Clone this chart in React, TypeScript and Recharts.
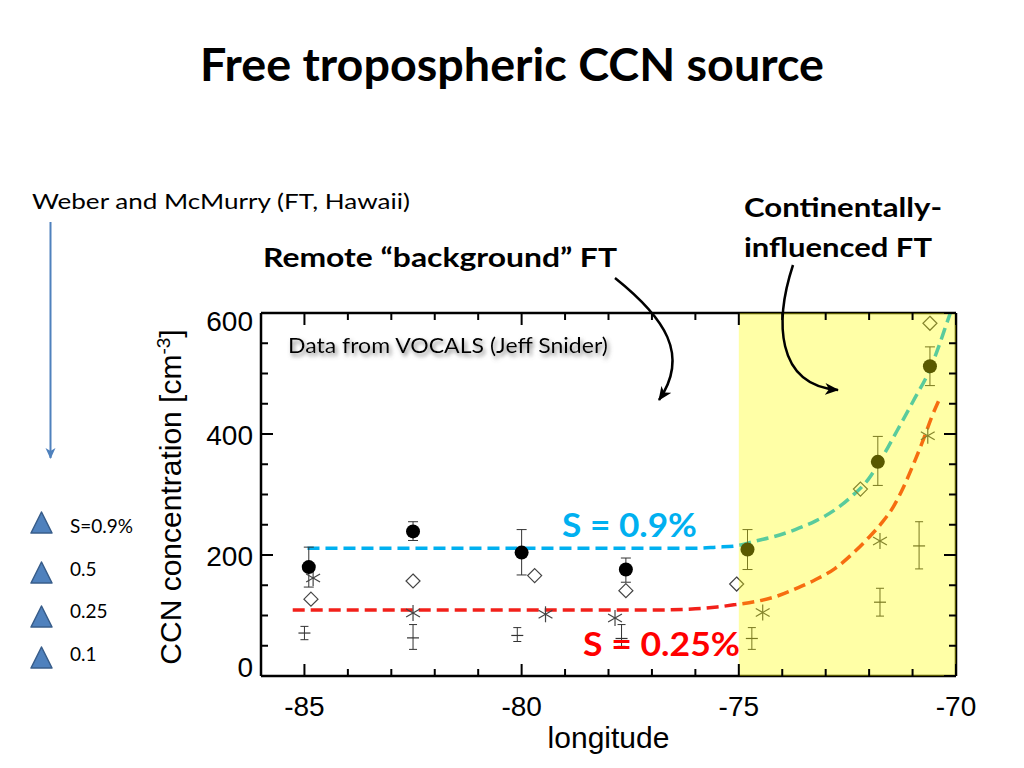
import {
  ComposedChart,
  XAxis,
  YAxis,
  Scatter,
  Line,
  ErrorBar,
  ReferenceArea,
} from "recharts";

// VOCALS data
const lon09 = [-84.9, -82.5, -80.0, -77.6, -74.8, -71.8, -70.6];
const ccn09 = [180, 239, 204, 176, 209, 354, 512];
const lo09 = [147, 224, 167, 155, 176, 315, 480];
const hi09 = [213, 255, 242, 195, 242, 396, 544];

const lon05 = [-84.85, -82.5, -79.7, -77.6, -75.05, -72.2, -70.6];
const ccn05 = [127, 157, 166, 141, 152, 309, 583];

const lon025 = [-84.8, -82.5, -79.45, -77.85, -74.45, -71.75, -70.65];
const ccn025 = [162, 104, 102, 96, 105, 223, 397];

const lon01 = [-85.0, -82.5, -80.1, -77.7, -74.7, -71.75, -70.85];
const ccn01 = [71, 63, 67, 62, 62, 122, 215];
const lo01 = [60, 44, 57, 49, 44, 99, 177];
const hi01 = [82, 85, 80, 85, 80, 145, 255];

// dashed fit curves
const fit09Lon = [-84.93, -83, -81, -79, -77, -76, -75.5, -75.08, -74.62, -74.16, -73.7, -73.24, -72.78, -72.4, -72.02, -71.75, -71.36, -70.98, -70.6, -70.37, -70.18, -70.13];
const fit09Ccn = [211, 211, 211, 211, 211, 211, 213, 215, 223, 231, 242, 256, 275, 297, 325, 355, 405, 455, 507, 550, 590, 600];
const fit025Lon = [-85.27, -83, -81, -79, -77, -76, -75.5, -75.08, -74.62, -74.16, -73.7, -73.24, -72.78, -72.4, -72.02, -71.71, -71.44, -71.21, -70.98, -70.75, -70.56, -70.38];
const fit025Ccn = [109, 109, 109, 109, 109, 111, 114, 118, 123, 131, 144, 159, 178, 201, 228, 253, 280, 312, 350, 391, 428, 458];

const xTicks = [-85, -84, -83, -82, -81, -80, -79, -78, -77, -76, -75, -74, -73, -72, -71, -70];
const xMajor = [-85, -80, -75, -70];
const yTicks = [0, 50, 100, 150, 200, 250, 300, 350, 400, 450, 500, 550, 600];
const yMajor = [0, 200, 400, 600];

const legendLabels = ["S=0.9%", "0.5", "0.25", "0.1"];

const pts = (xs: number[], ys: number[]) => xs.map((x, i) => ({ x, y: ys[i] }));
const ptsErr = (xs: number[], ys: number[], lo: number[], hi: number[]) =>
  xs.map((x, i) => ({ x, y: ys[i], err: [ys[i] - lo[i], hi[i] - ys[i]] }));

const data09 = ptsErr(lon09, ccn09, lo09, hi09);
const data05 = pts(lon05, ccn05);
const data025 = pts(lon025, ccn025);
const data01 = ptsErr(lon01, ccn01, lo01, hi01);
const fit09 = pts(fit09Lon, fit09Ccn);
const fit025 = pts(fit025Lon, fit025Ccn);

const ARIAL = "'Liberation Sans', Arial, sans-serif";
const CALIBRI = "Lato, 'Open Sans', sans-serif";

const BottomTick = (p: any) => {
  const major = xMajor.includes(p.payload.value);
  return (
    <g>
      <line x1={p.x} x2={p.x} y1={p.y} y2={p.y - (major ? 12 : 7)} stroke="#000" strokeWidth={2} />
      {major && (
        <text x={p.x} y={p.y + 40} textAnchor="middle" fontSize={28} fontFamily={ARIAL} fill="#000">
          {p.payload.value}
        </text>
      )}
    </g>
  );
};

const TopTick = (p: any) => {
  const major = xMajor.includes(p.payload.value);
  return <line x1={p.x} x2={p.x} y1={p.y} y2={p.y + (major ? 12 : 7)} stroke="#000" strokeWidth={2} />;
};

const LeftTick = (p: any) => {
  const v = p.payload.value;
  const major = yMajor.includes(v);
  const shift = v === 600 ? 8 : v === 0 ? -9 : 1;
  return (
    <g>
      <line x1={p.x} x2={p.x + (major ? 12 : 7)} y1={p.y} y2={p.y} stroke="#000" strokeWidth={2} />
      {major && (
        <text x={p.x - 8} y={p.y + shift + 10} textAnchor="end" fontSize={28} fontFamily={ARIAL} fill="#000">
          {v}
        </text>
      )}
    </g>
  );
};

const RightTick = (p: any) => {
  const major = yMajor.includes(p.payload.value);
  return <line x1={p.x} x2={p.x - (major ? 12 : 7)} y1={p.y} y2={p.y} stroke="#000" strokeWidth={2} />;
};

const FilledDot = (p: any) => <circle cx={p.cx} cy={p.cy} r={7} fill="#000" />;

const OpenDiamond = (p: any) => (
  <path
    d={`M${p.cx},${p.cy - 7} L${p.cx + 7},${p.cy} L${p.cx},${p.cy + 7} L${p.cx - 7},${p.cy} Z`}
    fill="none"
    stroke="#444"
    strokeWidth={1.2}
  />
);

const Asterisk = (p: any) => {
  const r = 8;
  const c = 0.866 * r;
  const s = 0.5 * r;
  return (
    <g stroke="#444" strokeWidth={1.2}>
      <line x1={p.cx} y1={p.cy - r} x2={p.cx} y2={p.cy + r} />
      <line x1={p.cx - c} y1={p.cy - s} x2={p.cx + c} y2={p.cy + s} />
      <line x1={p.cx - c} y1={p.cy + s} x2={p.cx + c} y2={p.cy - s} />
    </g>
  );
};

const Dash = (p: any) => (
  <line x1={p.cx - 6} x2={p.cx + 6} y1={p.cy} y2={p.cy} stroke="#333" strokeWidth={1.2} />
);

const XLabel = (p: any) => {
  const vb = p.viewBox;
  return (
    <text x={vb.x + vb.width / 2} y={vb.y + 72} textAnchor="middle" fontSize={30} fontFamily={ARIAL} fill="#000">
      longitude
    </text>
  );
};

const YLabel = () => (
  <text transform="translate(181,497) rotate(-90)" textAnchor="middle" fontSize={30} fontFamily={ARIAL} fill="#000">
    CCN concentration [cm
    <tspan dy={-11} fontSize={19}>-3</tspan>
    <tspan dy={11}>]</tspan>
  </text>
);

const axisLine = { stroke: "#000", strokeWidth: 2.5 };

const App = () => {
  return (
    <div style={{ position: "absolute", left: 0, top: 0, width: 1024, height: 768, background: "#fff" }}>
      <ComposedChart
        width={1024}
        height={768}
        margin={{ top: 312, right: 67, bottom: 91, left: 260 }}
      >
        <XAxis
          xAxisId="bottom"
          dataKey="x"
          type="number"
          domain={[-86, -70]}
          allowDataOverflow
          ticks={xTicks}
          interval={0}
          height={1}
          tickSize={0}
          tickMargin={0}
          tick={<BottomTick />}
          axisLine={axisLine}
          label={<XLabel />}
        />
        <XAxis
          xAxisId="top"
          orientation="top"
          dataKey="x"
          type="number"
          domain={[-86, -70]}
          allowDataOverflow
          ticks={xTicks}
          interval={0}
          height={1}
          tickSize={0}
          tickMargin={0}
          tick={<TopTick />}
          axisLine={axisLine}
        />
        <YAxis
          yAxisId="left"
          dataKey="y"
          type="number"
          domain={[0, 600]}
          allowDataOverflow
          ticks={yTicks}
          interval={0}
          width={1}
          tickSize={0}
          tickMargin={0}
          tick={<LeftTick />}
          axisLine={axisLine}
          label={<YLabel />}
        />
        <YAxis
          yAxisId="right"
          orientation="right"
          dataKey="y"
          type="number"
          domain={[0, 600]}
          allowDataOverflow
          ticks={yTicks}
          interval={0}
          width={1}
          tickSize={0}
          tickMargin={0}
          tick={<RightTick />}
          axisLine={axisLine}
        />

        <Line xAxisId="bottom" yAxisId="left" data={fit09} dataKey="y" type="monotone" stroke="#00B0F0" strokeWidth={3.5} strokeDasharray="12 6" dot={false} isAnimationActive={false} />
        <Line xAxisId="bottom" yAxisId="left" data={fit025} dataKey="y" type="monotone" stroke="#F2201A" strokeWidth={3.5} strokeDasharray="12 6" dot={false} isAnimationActive={false} />

        <Scatter xAxisId="bottom" yAxisId="left" data={data01} dataKey="y" shape={<Dash />} isAnimationActive={false}>
          <ErrorBar dataKey="err" direction="y" width={4} stroke="#333" strokeWidth={1} />
        </Scatter>
        <Scatter xAxisId="bottom" yAxisId="left" data={data025} dataKey="y" shape={<Asterisk />} isAnimationActive={false} />
        <Scatter xAxisId="bottom" yAxisId="left" data={data05} dataKey="y" shape={<OpenDiamond />} isAnimationActive={false} />
        <Scatter xAxisId="bottom" yAxisId="left" data={data09} dataKey="y" shape={<FilledDot />} isAnimationActive={false}>
          <ErrorBar dataKey="err" direction="y" width={5} stroke="#333" strokeWidth={1} />
        </Scatter>

        <ReferenceArea
          xAxisId="bottom"
          yAxisId="left"
          x1={-75}
          x2={-70}
          y1={0}
          y2={600}
          fill="#FFFF00"
          fillOpacity={0.35}
          stroke="none"
          zIndex={1000}
        />
      </ComposedChart>

      <svg width={1024} height={768} style={{ position: "absolute", left: 0, top: 0, pointerEvents: "none" }}>
        <defs>
          <marker id="blueHead" markerWidth={12} markerHeight={12} refX={6} refY={10} orient="0" markerUnits="userSpaceOnUse">
            <path d="M1,0 L6,11 L11,0 L6,3 Z" fill="#4F81BD" />
          </marker>
          <marker id="blackHead" markerWidth={16} markerHeight={12} refX={13} refY={6} orient="auto" markerUnits="userSpaceOnUse">
            <path d="M0,0 L14,6 L0,12 L4,6 Z" fill="#000" />
          </marker>
          <filter id="shadow" x="-10%" y="-30%" width="120%" height="160%">
            <feDropShadow dx={2} dy={3} stdDeviation={2} floodColor="#777" floodOpacity={0.9} />
          </filter>
        </defs>

        <text x={200} y={81} fontSize={46} fontWeight={700} fontFamily={CALIBRI} textLength={624} lengthAdjust="spacingAndGlyphs">
          Free tropospheric CCN source
        </text>

        <text x={32} y={209} fontSize={22} fontFamily={CALIBRI} textLength={378} lengthAdjust="spacingAndGlyphs">
          Weber and McMurry (FT, Hawaii)
        </text>
        <line x1={50.5} y1={222} x2={50.5} y2={458} stroke="#4F81BD" strokeWidth={2} markerEnd="url(#blueHead)" />

        <text x={263} y={267} fontSize={27} fontWeight={700} fontFamily={CALIBRI} textLength={354} lengthAdjust="spacingAndGlyphs">
          Remote “background” FT
        </text>
        <text x={744} y={217} fontSize={27} fontWeight={700} fontFamily={CALIBRI} textLength={198} lengthAdjust="spacingAndGlyphs">
          Continentally-
        </text>
        <text x={744} y={257} fontSize={27} fontWeight={700} fontFamily={CALIBRI} textLength={188} lengthAdjust="spacingAndGlyphs">
          influenced FT
        </text>

        <path d="M615,278 C665,318 690,355 659,400" fill="none" stroke="#000" strokeWidth={2.5} markerEnd="url(#blackHead)" />
        <path d="M793,265 C775,320 775,385 838,390" fill="none" stroke="#000" strokeWidth={2.5} markerEnd="url(#blackHead)" />

        <text x={288} y={353} fontSize={21} fontFamily={CALIBRI} textLength={320} lengthAdjust="spacingAndGlyphs" filter="url(#shadow)">
          Data from VOCALS (Jeff Snider)
        </text>

        <text x={562} y={537} fontSize={33} fontWeight={700} fontFamily={CALIBRI} fill="#00B0F0" textLength={135} lengthAdjust="spacingAndGlyphs">
          S = 0.9%
        </text>
        <text x={583} y={656} fontSize={33} fontWeight={700} fontFamily={CALIBRI} fill="#FF0000" textLength={157} lengthAdjust="spacingAndGlyphs">
          S = 0.25%
        </text>

        {legendLabels.map((label, i) => {
          const base = [533, 583, 627, 668][i];
          const textY = [533, 576, 618, 661][i];
          return (
            <g key={label}>
              <polygon
                points={`31,${base} 52,${base} 41.5,${base - 21}`}
                fill="#4F81BD"
                stroke="#385D8A"
                strokeWidth={1.5}
                strokeLinejoin="round"
              />
              <text x={70} y={textY} fontSize={19} fontFamily={CALIBRI}>
                {label}
              </text>
            </g>
          );
        })}
      </svg>
    </div>
  );
};

export default App;
